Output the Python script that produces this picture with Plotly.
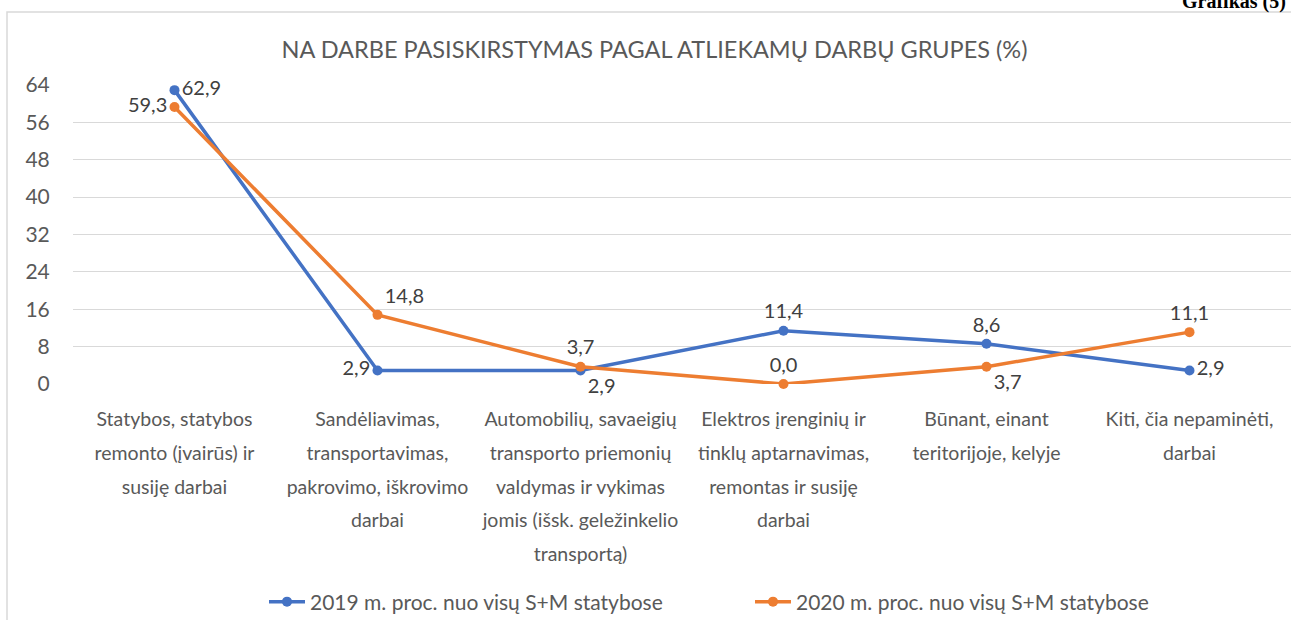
import plotly.graph_objects as go

categories = [
    "Statybos, statybos<br>remonto (įvairūs) ir<br>susiję darbai",
    "Sandėliavimas,<br>transportavimas,<br>pakrovimo, iškrovimo<br>darbai",
    "Automobilių, savaeigių<br>transporto priemonių<br>valdymas ir vykimas<br>jomis (išsk. geležinkelio<br>transportą)",
    "Elektros įrenginių ir<br>tinklų aptarnavimas,<br>remontas ir susiję<br>darbai",
    "Būnant, einant<br>teritorijoje, kelyje",
    "Kiti, čia nepaminėti,<br>darbai",
]
values_2019 = [62.9, 2.9, 2.9, 11.4, 8.6, 2.9]
values_2020 = [59.3, 14.8, 3.7, 0.0, 3.7, 11.1]
name_2019 = "2019 m. proc. nuo visų S+M statybose"
name_2020 = "2020 m. proc. nuo visų S+M statybose"
y_ticks = [0, 8, 16, 24, 32, 40, 48, 56, 64]
title_text = "NA DARBE PASISKIRSTYMAS PAGAL ATLIEKAMŲ DARBŲ GRUPES (%)"

FONT = "Lato"
GRAY = "#595959"


def fmt(v):
    return f"{v:.1f}".replace(".", ",")


def span_lines(label, size=19.5):
    return "<br>".join(f"<span style='font-size:{size}px'>{p}</span>" for p in label.split("<br>"))


ticktext = [span_lines(c) for c in categories]
x_idx = list(range(len(categories)))

pos_2019 = ["middle right", "middle left", "bottom right", "top center", "top center", "middle right"]
pos_2020 = ["middle left", "top right", "top center", "top center", "bottom right", "top center"]

fig = go.Figure()
fig.add_trace(go.Scatter(
    x=x_idx, y=values_2019, name=name_2019, mode="lines+markers+text",
    line=dict(color="#4472C4", width=3.5), marker=dict(size=10, color="#4472C4"),
    text=[fmt(v) for v in values_2019], textposition=pos_2019,
    textfont=dict(family=FONT, size=20, color="#404040"), cliponaxis=False,
))
fig.add_trace(go.Scatter(
    x=x_idx, y=values_2020, name=name_2020, mode="lines+markers+text",
    line=dict(color="#ED7D31", width=3.5), marker=dict(size=10, color="#ED7D31"),
    text=[fmt(v) for v in values_2020], textposition=pos_2020,
    textfont=dict(family=FONT, size=20, color="#404040"), cliponaxis=False,
))

fig.update_layout(
    width=1291, height=620,
    margin=dict(l=73, r=0, t=85, b=236, autoexpand=False),
    paper_bgcolor="white", plot_bgcolor="white",
    font=dict(family=FONT, color=GRAY),
    title=dict(text=title_text, x=0.507, xanchor="center", y=1 - 50 / 620, yanchor="middle",
               font=dict(family=FONT, size=23.5, color=GRAY)),
    showlegend=True,
    legend=dict(orientation="h", x=(264 - 73) / 1218, xanchor="left",
                y=(384 - 602) / 299, yanchor="middle",
                font=dict(family=FONT, size=21, color=GRAY),
                entrywidth=435, entrywidthmode="pixels", itemwidth=36),
    xaxis=dict(range=[-0.5, len(categories) - 0.5], tickmode="array", tickvals=x_idx,
               ticktext=ticktext, tickfont=dict(family=FONT, size=26, color=GRAY),
               showgrid=False, zeroline=False, showline=False, ticks="",
               ticklabelstandoff=15),
    yaxis=dict(range=[0, 64], tickmode="array", tickvals=y_ticks,
               ticktext=[str(v) for v in y_ticks],
               tickfont=dict(family=FONT, size=21, color=GRAY),
               showgrid=True, gridcolor="#d9d9d9", gridwidth=1, zeroline=False,
               ticks="outside", ticklen=18, tickcolor="rgba(0,0,0,0)"),
    shapes=[dict(type="rect", xref="paper", yref="paper",
                 x0=(7 - 73) / 1218, x1=1.01, y0=-0.8, y1=(384 - 12) / 299,
                 line=dict(color="#d9d9d9", width=1.5), fillcolor="rgba(0,0,0,0)", layer="below")],
    annotations=[dict(text="<b>Grafikas (5)</b>", xref="paper", yref="paper",
                      x=(1288 - 73) / 1218, xanchor="right", y=(384 - 15) / 299, yanchor="bottom",
                      showarrow=False, font=dict(family="Liberation Serif", size=20, color="black"))],
)

fig.write_html("out.html", config={"displayModeBar": False},
               post_script="document.body.style.margin='0';document.body.style.overflow='hidden';")
